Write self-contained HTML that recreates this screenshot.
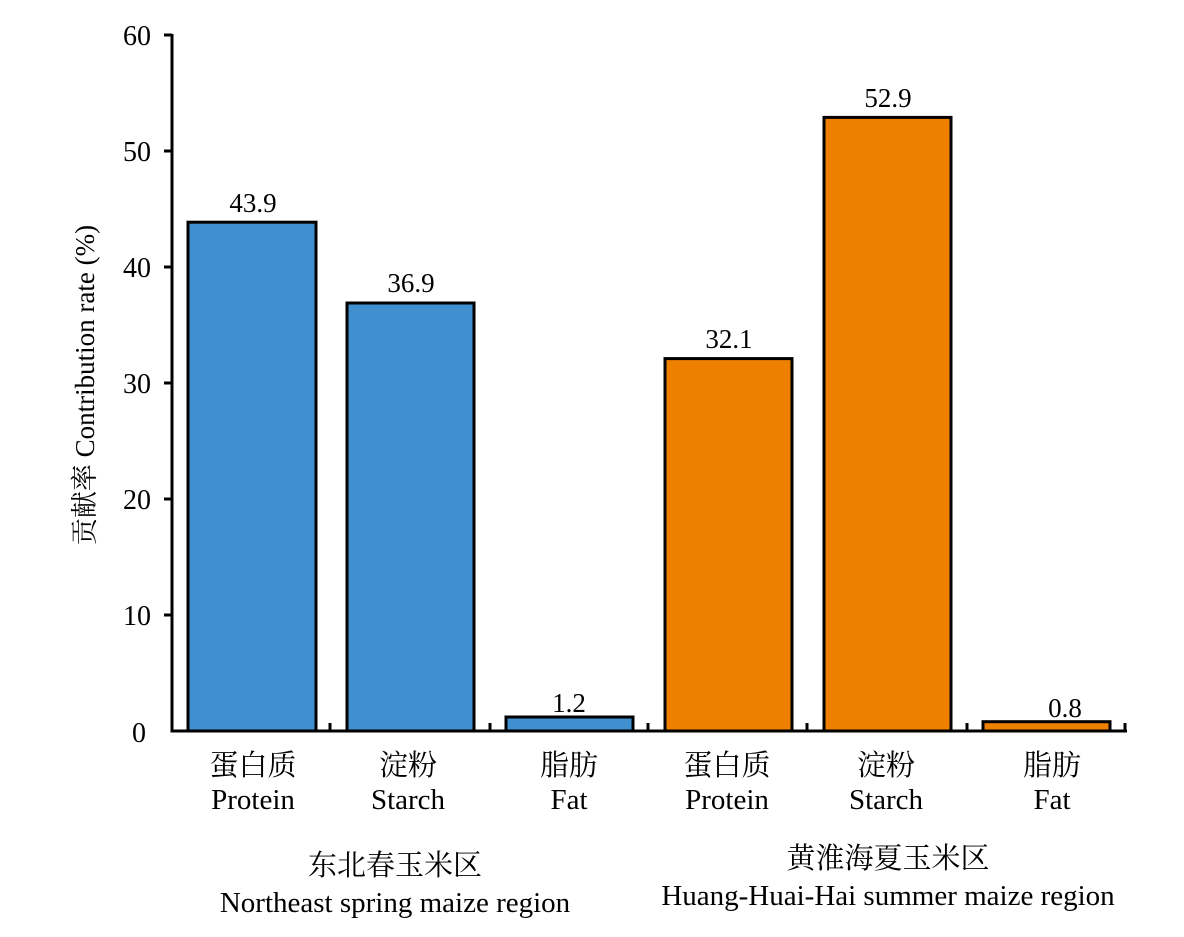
<!DOCTYPE html>
<html><head><meta charset="utf-8"><style>body{margin:0;background:#fff}</style></head><body>
<svg width="1184" height="932" xmlns="http://www.w3.org/2000/svg" font-family="'Liberation Serif','Noto Serif CJK SC',serif" fill="#000">
<g stroke="#000" stroke-width="3" fill="#4090d0">
<rect x="188" y="222.2" width="128" height="508.8"/>
<rect x="347" y="303.0" width="127" height="428"/>
<rect x="506" y="717" width="127" height="14"/>
</g>
<g stroke="#000" stroke-width="3" fill="#ee8000">
<rect x="665" y="358.6" width="127" height="372.4"/>
<rect x="824" y="117.4" width="127" height="613.6"/>
<rect x="983" y="721.7" width="127" height="9.3"/>
</g>
<g stroke="#000" stroke-width="3" fill="none">
<path d="M172,34 V731 H1127"/>
<path d="M164,35H172M164,151H172M164,267H172M164,383H172M164,499H172M164,615H172"/>
<path d="M330,731V723M490,731V723M648,731V723M807,731V723M967,731V723M1125,731V723"/>
</g>
<g font-size="28" text-anchor="end">
<text x="151" y="45">60</text><text x="151" y="161">50</text><text x="151" y="277">40</text>
<text x="151" y="393">30</text><text x="151" y="509">20</text><text x="151" y="625">10</text><text x="146" y="742">0</text>
</g>
<g font-size="27" text-anchor="middle">
<text x="253" y="212">43.9</text><text x="411" y="292">36.9</text><text x="569" y="712">1.2</text>
<text x="729" y="348">32.1</text><text x="888" y="107">52.9</text><text x="1065" y="717">0.8</text>
</g>
<g font-size="29" text-anchor="middle">
<text x="253" y="775">蛋白质</text><text x="253" y="809">Protein</text>
<text x="408" y="775">淀粉</text><text x="408" y="809">Starch</text>
<text x="569" y="775">脂肪</text><text x="569" y="809">Fat</text>
<text x="727" y="775">蛋白质</text><text x="727" y="809">Protein</text>
<text x="886" y="775">淀粉</text><text x="886" y="809">Starch</text>
<text x="1052" y="775">脂肪</text><text x="1052" y="809">Fat</text>
<text x="395" y="875">东北春玉米区</text><text x="395" y="912">Northeast spring maize region</text>
<text x="888" y="868">黄淮海夏玉米区</text><text x="888" y="905">Huang-Huai-Hai summer maize region</text>
</g>
<text font-size="27" text-anchor="middle" transform="translate(94,385) rotate(-90)">贡献率 Contribution rate (%)</text>
</svg>
</body></html>
